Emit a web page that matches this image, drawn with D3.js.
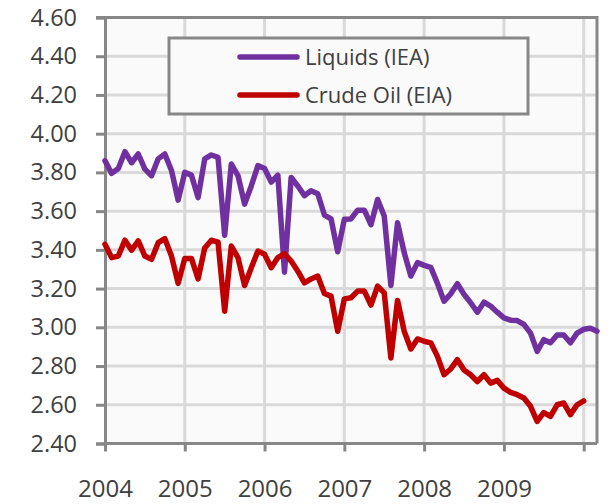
<!DOCTYPE html>
<html>
<head>
<meta charset="utf-8">
<script src="https://cdn.jsdelivr.net/npm/d3@7"></script>
<style>
  html, body { margin: 0; padding: 0; background: #ffffff; }
  svg { display: block; }
  text { font-family: "Open Sans", sans-serif; fill: #404040; }
</style>
</head>
<body>
<svg id="chart" width="611" height="504"></svg>
<script>
// Monthly values, Jan 2004 onwards
const liquidsIEA = [
  3.86, 3.795, 3.82, 3.907, 3.85, 3.895, 3.817, 3.783, 3.87, 3.895, 3.81, 3.657,
  3.80, 3.786, 3.67, 3.87, 3.89, 3.878, 3.475, 3.843, 3.783, 3.636, 3.73, 3.835,
  3.82, 3.75, 3.786, 3.285, 3.774, 3.73, 3.68, 3.705, 3.69, 3.58, 3.56, 3.39,
  3.558, 3.56, 3.605, 3.605, 3.53, 3.66, 3.575, 3.216, 3.54, 3.386, 3.265, 3.334,
  3.32, 3.31, 3.227, 3.135, 3.173, 3.225, 3.17, 3.127, 3.078, 3.13, 3.11, 3.078,
  3.049, 3.037, 3.035, 3.015, 2.97, 2.876, 2.936, 2.92, 2.96, 2.96, 2.92, 2.97,
  2.99, 2.995, 2.98
];
const crudeOilEIA = [
  3.429, 3.36, 3.368, 3.45, 3.398, 3.446, 3.368, 3.351, 3.437, 3.458, 3.368, 3.227,
  3.356, 3.356, 3.25, 3.41, 3.45, 3.44, 3.083, 3.42, 3.36, 3.216, 3.308, 3.394,
  3.377, 3.308, 3.36, 3.38, 3.342, 3.29, 3.23, 3.25, 3.265, 3.175, 3.161, 2.98,
  3.147, 3.153, 3.187, 3.187, 3.115, 3.213, 3.178, 2.842, 3.139, 2.98, 2.888, 2.94,
  2.928, 2.92, 2.85, 2.755, 2.785, 2.833, 2.78, 2.755, 2.72, 2.755, 2.712, 2.726,
  2.686, 2.664, 2.652, 2.635, 2.592, 2.514, 2.56, 2.54, 2.60, 2.609, 2.549, 2.60,
  2.62
];
const seriesNames = ["Liquids (IEA)", "Crude Oil (EIA)"];
const yearLabels = ["2004", "2005", "2006", "2007", "2008", "2009"];
const yTicks = [2.40, 2.60, 2.80, 3.00, 3.20, 3.40, 3.60, 3.80, 4.00, 4.20, 4.40, 4.60];

const colors = ["#7030a0", "#c00000"];

const svg = d3.select("#chart");
const plotLeft = 105, plotRight = 597, plotTop = 17.5, plotBottom = 443.5;

// month index -> x
const x = d3.scaleLinear().domain([0, 74]).range([plotLeft, plotRight]);
const y = d3.scaleLinear().domain([2.40, 4.60]).range([plotBottom, plotTop]);

const yearTickIdx = d3.range(0, 73, 12); // 2004 .. 2010

// plot area background
svg.append("rect")
  .attr("x", plotLeft).attr("y", plotTop)
  .attr("width", plotRight - plotLeft).attr("height", plotBottom - plotTop)
  .attr("fill", "#fafafa");

// grid
const grid = svg.append("g");
grid.selectAll("line.h").data(yTicks.slice(1, -1)).join("line")
  .attr("x1", plotLeft).attr("x2", plotRight)
  .attr("y1", d => y(d)).attr("y2", d => y(d))
  .attr("stroke", "#d9d9d9").attr("stroke-width", 3);
grid.selectAll("line.v").data(yearTickIdx.slice(1)).join("line")
  .attr("x1", d => x(d)).attr("x2", d => x(d))
  .attr("y1", plotTop).attr("y2", plotBottom)
  .attr("stroke", "#d9d9d9").attr("stroke-width", 3);

// frame (top and right)
svg.append("path")
  .attr("d", `M${plotLeft - 9},${plotTop}H${plotRight}V${plotBottom}`)
  .attr("fill", "none").attr("stroke", "#878787").attr("stroke-width", 3);

// y axis
const yAxis = svg.append("g").attr("transform", `translate(${plotLeft},0)`)
  .call(d3.axisLeft(y).tickValues(yTicks).tickFormat(d3.format(".2f")).tickSize(9).tickPadding(19));
yAxis.select(".domain").attr("stroke", "#878787").attr("stroke-width", 3);
yAxis.selectAll(".tick line").attr("stroke", "#878787").attr("stroke-width", 3);
yAxis.selectAll(".tick text")
  .attr("font-size", "23.5px").attr("font-family", "Open Sans, sans-serif")
  .attr("fill", "#404040");

// x axis
const xAxis = svg.append("g").attr("transform", `translate(0,${plotBottom})`)
  .call(d3.axisBottom(x).tickValues(yearTickIdx)
    .tickFormat((d, i) => yearLabels[i] || "").tickSize(8).tickPadding(28).tickSizeOuter(0));
xAxis.select(".domain").attr("stroke", "#878787").attr("stroke-width", 3)
  .attr("d", `M${plotLeft - 1.5},0H${plotRight}`);
xAxis.selectAll(".tick line").attr("stroke", "#878787").attr("stroke-width", 3);
xAxis.selectAll(".tick text")
  .attr("font-size", "24px").attr("font-family", "Open Sans, sans-serif")
  .attr("fill", "#404040");

// series lines
const line = d3.line().x((d, i) => x(i)).y(d => y(d)).curve(d3.curveLinear);
[liquidsIEA, crudeOilEIA].forEach((vals, k) => {
  svg.append("path").datum(vals)
    .attr("d", line)
    .attr("fill", "none")
    .attr("stroke", colors[k])
    .attr("stroke-width", 5.5)
    .attr("stroke-linejoin", "round")
    .attr("stroke-linecap", "round");
});

// legend
const legend = svg.append("g");
legend.append("rect")
  .attr("x", 169).attr("y", 38).attr("width", 359).attr("height", 76)
  .attr("fill", "#fafafa").attr("stroke", "#878787").attr("stroke-width", 3);
seriesNames.forEach((name, k) => {
  const ly = 57 + k * 38;
  legend.append("line")
    .attr("x1", 240).attr("x2", 297).attr("y1", ly).attr("y2", ly)
    .attr("stroke", colors[k]).attr("stroke-width", 5.5).attr("stroke-linecap", "round");
  legend.append("text")
    .attr("x", 305).attr("y", ly).attr("dy", "0.35em")
    .attr("font-size", "22px")
    .text(name);
});
</script>
</body>
</html>
